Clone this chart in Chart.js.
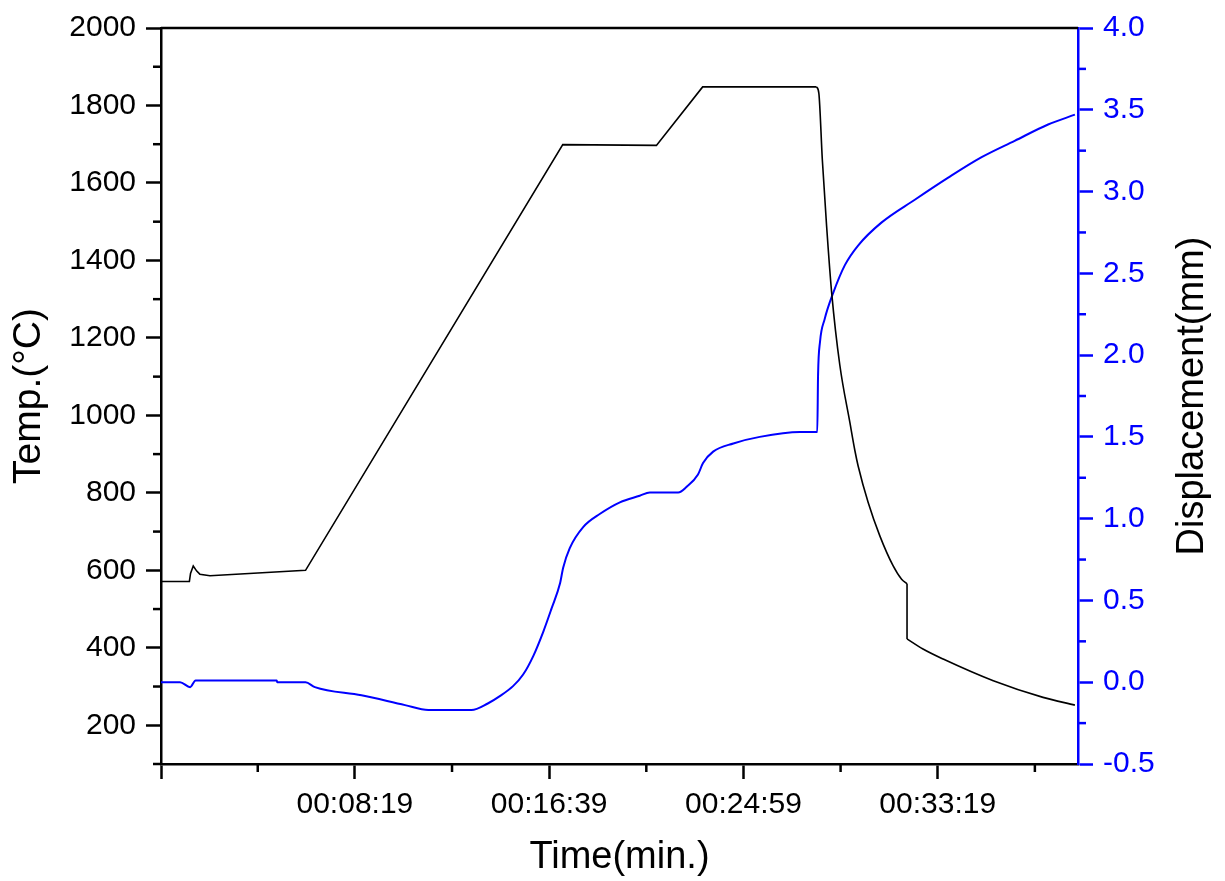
<!DOCTYPE html>
<html>
<head>
<meta charset="utf-8">
<script src="https://cdn.jsdelivr.net/npm/chart.js@4.4.1/dist/chart.umd.min.js"></script>
<style>
	html, body { margin: 0; padding: 0; background: #fff; }
	#wrap { width: 1225px; height: 881px; }
</style>
</head>
<body>
<div id="wrap"><canvas id="sinterChart" width="1225" height="881"></canvas></div>
<script>
// Time in seconds from the start of the run
const tempTime = [0, 73, 76, 83, 92, 100, 126, 372, 1034, 1275, 1394, 1687, 1693, 1702, 1713, 1726, 1747, 1773, 1786, 1794, 1820, 1850, 1884, 1906, 1920, 1920, 1961, 2013, 2142, 2270, 2352];
const tempValues = [571, 571, 592, 611, 598, 590, 586, 600, 1699, 1697, 1848, 1848, 1832, 1660, 1489, 1317, 1130, 981, 908, 870, 775, 689, 612, 577, 565, 423, 397, 371, 315, 272, 252];
// heating program ends at coolingStart, the sample is quenched at quenchTime
const coolingStart = 1687;
const quenchTime = 1920;

const dispTime = [0, 49, 75, 89, 298, 299, 372, 396, 516, 628, 688, 799, 841, 872, 906, 932, 958, 984, 1005, 1027, 1035, 1052, 1087, 1130, 1181, 1232, 1258, 1331, 1353, 1382, 1395, 1421, 1473, 1541, 1644, 1689, 1691, 1696, 1708, 1730, 1760, 1794, 1854, 1940, 2026, 2112, 2197, 2283, 2352];
const dispValues = [0, 0, -0.03, 0.01, 0.01, 0, 0, -0.03, -0.08, -0.14, -0.17, -0.17, -0.13, -0.085, -0.024, 0.047, 0.16, 0.31, 0.45, 0.605, 0.70, 0.82, 0.95, 1.03, 1.10, 1.14, 1.16, 1.16, 1.195, 1.27, 1.34, 1.41, 1.46, 1.50, 1.53, 1.53, 1.876, 2.08, 2.22, 2.38, 2.55, 2.67, 2.81, 2.95, 3.085, 3.21, 3.31, 3.41, 3.47];

// Axis ticks
const timeTicks = [0, 499, 999, 1499, 1999];
const timeMinor = [249, 749, 1249, 1749, 2249];
const tempTicks = [200, 400, 600, 800, 1000, 1200, 1400, 1600, 1800, 2000];
const tempMinor = [100, 300, 500, 700, 900, 1100, 1300, 1500, 1700, 1900];
const dispTicks = [-0.5, 0, 0.5, 1.0, 1.5, 2.0, 2.5, 3.0, 3.5, 4.0];
const dispMinor = [-0.25, 0.25, 0.75, 1.25, 1.75, 2.25, 2.75, 3.25, 3.75];

const blue = '#0000ff';
const fontFamily = '"Liberation Sans", Arial, sans-serif';

function hms(s) {
	const h = Math.floor(s / 3600), m = Math.floor((s % 3600) / 60), sec = s % 60;
	return [h, m, sec].map(n => String(n).padStart(2, '0')).join(':');
}

function setTicks(values) {
	return function(axis) {
		axis.ticks = values.map(v => ({ value: v }));
	};
}

function points(xs, ys) {
	return xs.map((t, i) => ({ x: t, y: ys[i] }));
}

// short ticks, top frame line and the right-hand title
const frameExtras = {
	id: 'frameExtras',
	afterDraw(chart) {
		const ctx = chart.ctx;
		const { left, right, top, bottom } = chart.chartArea;
		const { x, y, y2 } = chart.scales;
		const seg = (x1, y1, x2, y2_) => {
			ctx.beginPath();
			ctx.moveTo(x1, y1);
			ctx.lineTo(x2, y2_);
			ctx.stroke();
		};
		ctx.save();
		ctx.lineWidth = 2.5;
		ctx.strokeStyle = '#000';
		seg(left, top, right, top);
		timeMinor.forEach(v => {
			const px = x.getPixelForValue(v);
			seg(px, bottom, px, bottom + 8);
		});
		tempMinor.forEach(v => {
			const py = y.getPixelForValue(v);
			seg(left - 8, py, left, py);
		});
		ctx.strokeStyle = blue;
		dispMinor.forEach(v => {
			const py = y2.getPixelForValue(v);
			seg(right, py, right + 8, py);
		});

		ctx.translate(y2.right - 32, (top + bottom) / 2);
		ctx.rotate(-Math.PI / 2);
		ctx.fillStyle = '#000';
		ctx.font = '38px ' + fontFamily;
		ctx.textAlign = 'center';
		ctx.textBaseline = 'middle';
		ctx.fillText('Displacement(mm)', 0, 0);
		ctx.restore();
	}
};

document.addEventListener('DOMContentLoaded', function() {
	const canvas = document.getElementById('sinterChart');
	const tempPoints = points(tempTime, tempValues);
	const iCool = tempTime.indexOf(coolingStart);
	const iQuench = tempTime.indexOf(quenchTime);

	// the temperature trace is one black line drawn in four pieces:
	// straight heating ramps, smooth furnace cooling, the quench drop, smooth decay
	const tempPiece = (label, from, to, smooth) => ({
		label: label,
		data: tempPoints.slice(from, to + 1),
		borderColor: '#000',
		borderWidth: 1.6,
		pointRadius: 0,
		tension: 0,
		cubicInterpolationMode: smooth ? 'monotone' : 'default',
		yAxisID: 'y'
	});

	new Chart(canvas, {
		type: 'line',
		data: {
			datasets: [
				tempPiece('Temp. heating', 0, iCool, false),
				tempPiece('Temp. cooling', iCool, iQuench, true),
				tempPiece('Temp. quench', iQuench, iQuench + 1, false),
				tempPiece('Temp. after quench', iQuench + 1, tempTime.length - 1, true),
				{
					label: 'Displacement',
					data: points(dispTime, dispValues),
					borderColor: blue,
					borderWidth: 2,
					pointRadius: 0,
					cubicInterpolationMode: 'monotone',
					yAxisID: 'y2'
				}
			]
		},
		options: {
			responsive: false,
			animation: false,
			layout: {
				padding: { top: 25, left: 0, right: 0, bottom: 0 }
			},
			plugins: {
				legend: { display: false },
				tooltip: { enabled: false }
			},
			scales: {
				x: {
					type: 'linear',
					position: 'bottom',
					min: 0,
					max: 2360,
					afterBuildTicks: setTicks(timeTicks),
					afterFit: function(scale) { scale.height = 117; },
					border: { color: '#000', width: 2.5 },
					grid: {
						drawOnChartArea: false,
						tickLength: 15,
						tickWidth: 2.5,
						tickColor: '#000'
					},
					ticks: {
						autoSkip: false,
						maxRotation: 0,
						padding: 8,
						color: '#000',
						font: { family: fontFamily, size: 30 },
						callback: v => (v === 0 ? '' : hms(v))
					},
					title: {
						display: true,
						text: 'Time(min.)',
						color: '#000',
						font: { family: fontFamily, size: 38 },
						padding: { top: 0, bottom: 1 }
					}
				},
				y: {
					type: 'linear',
					position: 'left',
					min: 100,
					max: 2000,
					afterBuildTicks: setTicks(tempTicks),
					afterFit: function(scale) { scale.width = 161; },
					border: { color: '#000', width: 2.5 },
					grid: {
						drawOnChartArea: false,
						tickLength: 15,
						tickWidth: 2.5,
						tickColor: '#000'
					},
					ticks: {
						padding: 10,
						color: '#000',
						font: { family: fontFamily, size: 30 },
						callback: v => String(v)
					},
					title: {
						display: true,
						text: 'Temp.(°C)',
						color: '#000',
						font: { family: fontFamily, size: 39 },
						padding: { top: 6, bottom: 0 }
					}
				},
				y2: {
					type: 'linear',
					position: 'right',
					min: -0.5,
					max: 4.0,
					afterBuildTicks: setTicks(dispTicks),
					afterFit: function(scale) { scale.width = 147; },
					border: { color: blue, width: 2.5 },
					grid: {
						drawOnChartArea: false,
						tickLength: 15,
						tickWidth: 2.5,
						tickColor: blue
					},
					ticks: {
						padding: 10,
						color: blue,
						font: { family: fontFamily, size: 30 },
						callback: v => v.toFixed(1)
					}
				}
			}
		},
		plugins: [frameExtras]
	});
});
</script>
</body>
</html>
